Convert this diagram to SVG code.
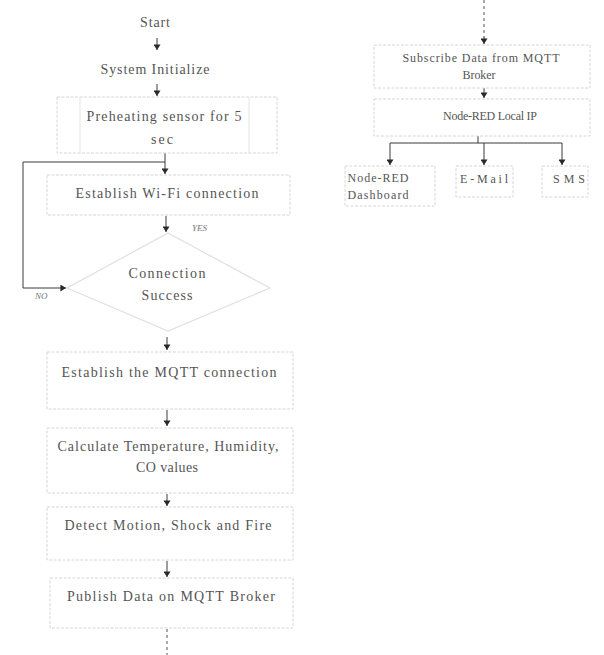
<svg xmlns="http://www.w3.org/2000/svg" width="604" height="655" viewBox="0 0 604 655">
<style>
  .box { fill: #ffffff; stroke: #d6d6d6; stroke-width: 1; stroke-dasharray: 3 1.5; }
  .dia { fill: #ffffff; stroke: #e0e0e0; stroke-width: 1.2; }
  .t { font-family: "Liberation Serif", "Times New Roman", serif; fill: #555555; text-anchor: middle; }
  .l { font-size: 14px; }
  .r { font-size: 12px; }
  .lab { font-family: "Liberation Serif", serif; font-style: italic; font-size: 9px; fill: #777; }
  .c { fill: none; stroke: #3a3a3a; stroke-width: 1; }
  .d { fill: none; stroke: #555; stroke-width: 1; stroke-dasharray: 3 3; }
</style>
<defs>
  <marker id="ah" viewBox="0 0 8 10" refX="8" refY="5" markerWidth="6" markerHeight="7" orient="auto" markerUnits="userSpaceOnUse">
    <path d="M0,0 L8,5 L0,10 z" fill="#2a2a2a"/>
  </marker>
</defs>

<rect width="604" height="655" fill="#ffffff"/>

<g id="connectors">
  <path class="c" d="M157,38 V50" marker-end="url(#ah)"/>
  <path class="c" d="M157,84 V96" marker-end="url(#ah)"/>
  <path class="c" d="M165,153 V174" marker-end="url(#ah)"/>
  <path class="c" d="M165,162 H23 V288 H66" marker-end="url(#ah)"/>
  <path class="c" d="M166,216 V232" marker-end="url(#ah)"/>
  <path class="c" d="M167,337 V350" marker-end="url(#ah)"/>
  <path class="c" d="M167,410 V426" marker-end="url(#ah)"/>
  <path class="c" d="M167,494 V506" marker-end="url(#ah)"/>
  <path class="c" d="M167,561 V577" marker-end="url(#ah)"/>
  <path class="d" d="M167,629 V655"/>
  <path class="d" d="M484,0 V36"/>
  <path class="c" d="M484,36 V44" marker-end="url(#ah)"/>
  <path class="c" d="M484,88 V98" marker-end="url(#ah)"/>
  <path class="c" d="M478,136 V143 H390 V165" marker-end="url(#ah)"/>
  <path class="c" d="M478,143 H562 V165" marker-end="url(#ah)"/>
  <path class="c" d="M484,143 V165" marker-end="url(#ah)"/>
  <text class="lab" x="192" y="231">YES</text>
  <text class="lab" x="35" y="299">NO</text>
</g>

<g id="start">
  <text class="t l" x="155" y="27" textLength="30" lengthAdjust="spacing">Start</text>
</g>
<g id="system-init">
  <text class="t l" x="155" y="74" textLength="109" lengthAdjust="spacing">System Initialize</text>
</g>
<g id="preheat">
  <rect class="box" x="57" y="97" width="220" height="56"/>
  <line x1="80" y1="97" x2="80" y2="153" stroke="#e4e4e4"/>
  <line x1="249" y1="97" x2="249" y2="153" stroke="#e4e4e4"/>
  <text class="t l" x="164" y="121" textLength="155" lengthAdjust="spacing">Preheating sensor for 5</text>
  <text class="t l" x="162" y="144" textLength="22" lengthAdjust="spacing">sec</text>
</g>
<g id="wifi">
  <rect class="box" x="47" y="175" width="243" height="40"/>
  <text class="t l" x="167" y="198" textLength="183" lengthAdjust="spacing">Establish Wi-Fi connection</text>
</g>
<g id="decision">
  <polygon class="dia" points="168,233 270,288 168,331 67,288"/>
  <text class="t l" x="167" y="278" textLength="77" lengthAdjust="spacing">Connection</text>
  <text class="t l" x="167" y="300" textLength="51" lengthAdjust="spacing">Success</text>
</g>
<g id="mqtt-connect">
  <rect class="box" x="47" y="352" width="246" height="57"/>
  <text class="t l" x="169" y="377" textLength="215" lengthAdjust="spacing">Establish the MQTT connection</text>
</g>
<g id="calculate">
  <rect class="box" x="47" y="428" width="246" height="65"/>
  <text class="t l" x="168" y="451" textLength="221" lengthAdjust="spacing">Calculate Temperature, Humidity,</text>
  <text class="t l" x="167" y="472" textLength="62" lengthAdjust="spacing">CO values</text>
</g>
<g id="detect">
  <rect class="box" x="47" y="507" width="246" height="53"/>
  <text class="t l" x="168" y="530" textLength="207" lengthAdjust="spacing">Detect Motion, Shock and Fire</text>
</g>
<g id="publish">
  <rect class="box" x="50" y="578" width="243" height="50"/>
  <text class="t l" x="171" y="601" textLength="208" lengthAdjust="spacing">Publish Data on MQTT Broker</text>
</g>

<g id="subscribe">
  <rect class="box" x="374" y="45" width="216" height="43"/>
  <text class="t r" x="481" y="62" textLength="157" lengthAdjust="spacing">Subscribe Data from MQTT</text>
  <text class="t r" x="479" y="79" textLength="33" lengthAdjust="spacing">Broker</text>
</g>
<g id="nodered-local">
  <rect class="box" x="374" y="99" width="216" height="37"/>
  <text class="t r" x="490" y="120" textLength="94" lengthAdjust="spacing">Node-RED Local IP</text>
</g>
<g id="dashboard">
  <rect class="box" x="345" y="166" width="90" height="40"/>
  <text class="t r" x="378" y="182" textLength="61" lengthAdjust="spacing">Node-RED</text>
  <text class="t r" x="378" y="199" textLength="61" lengthAdjust="spacing">Dashboard</text>
</g>
<g id="email">
  <rect class="box" x="456" y="166" width="57" height="31"/>
  <text class="t r" x="484" y="183" textLength="48" lengthAdjust="spacing">E-Mail</text>
</g>
<g id="sms">
  <rect class="box" x="542" y="166" width="46" height="31"/>
  <text class="t r" x="569" y="183" textLength="32" lengthAdjust="spacing">SMS</text>
</g>
</svg>
